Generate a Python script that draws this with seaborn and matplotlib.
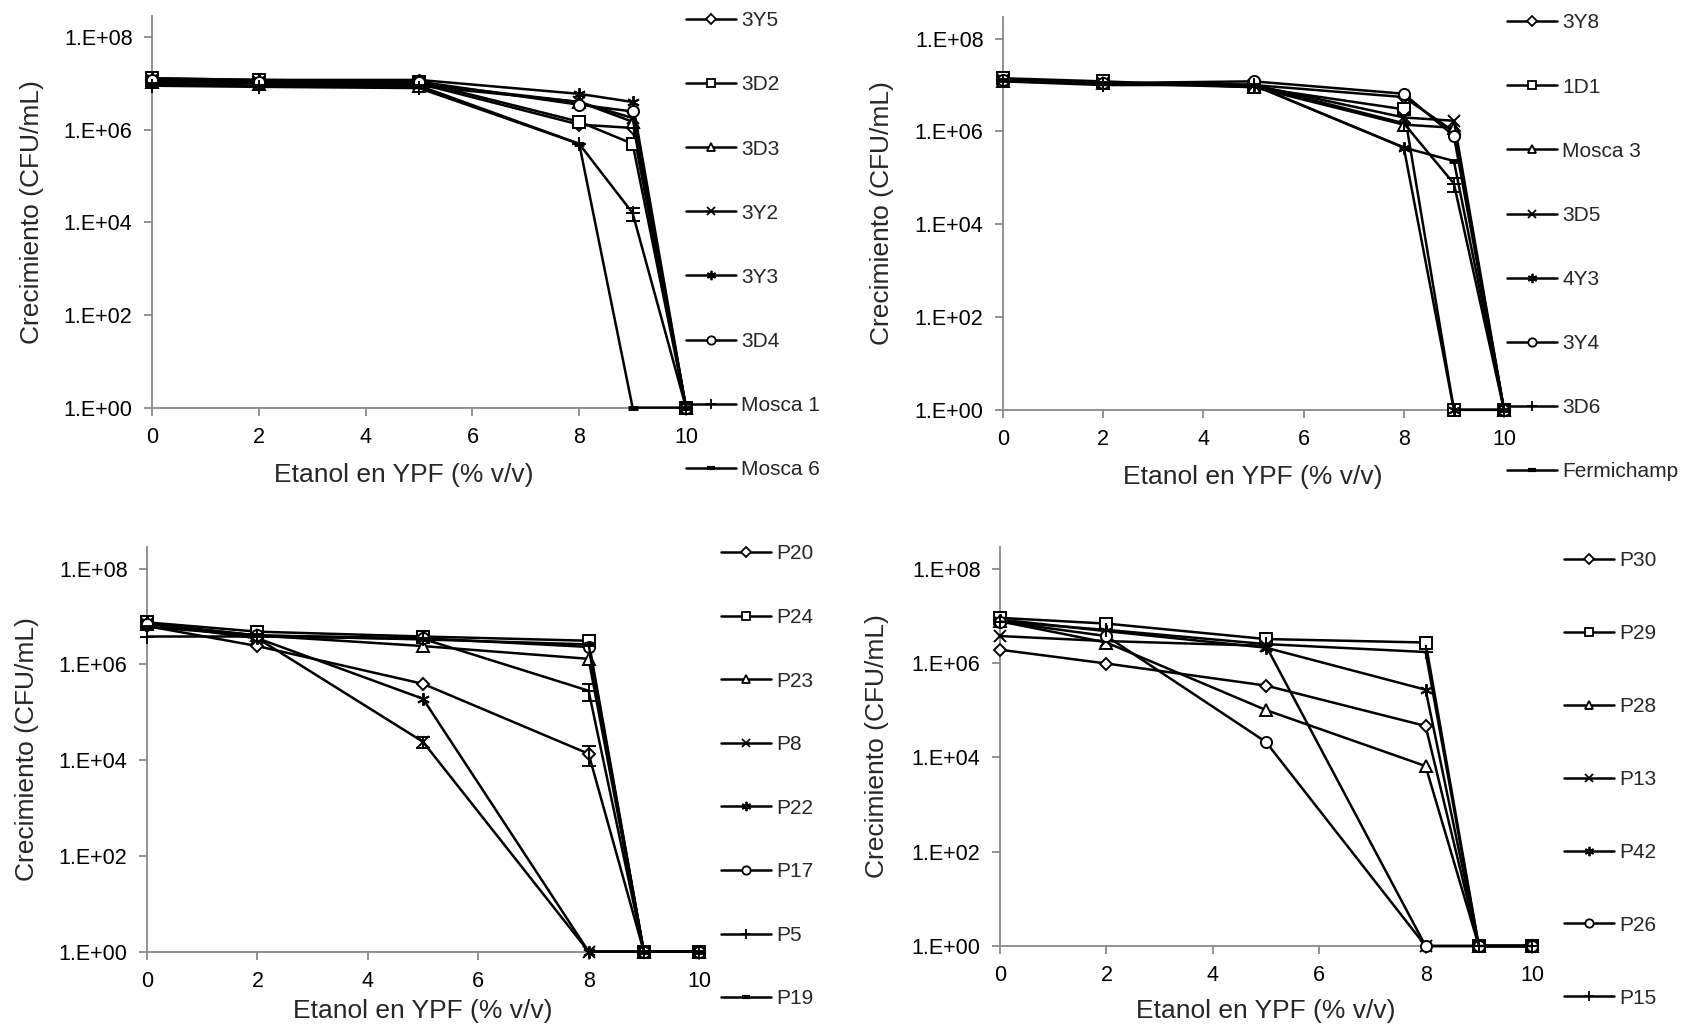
import numpy as np
import pandas as pd
import matplotlib
matplotlib.use("Agg")
import matplotlib.pyplot as plt
from matplotlib.lines import Line2D
from matplotlib.ticker import FixedLocator, FuncFormatter, NullLocator
import seaborn as sns

# ---------------- data ----------------
etanol = [0, 2, 5, 8, 9, 10]          # % v/v ; 0 CFU plotted as 1.E+00

cepas_a = ["3Y5", "3D2", "3D3", "3Y2", "3Y3", "3D4", "Mosca 1", "Mosca 6"]
ufc_a = [
    [1.2e7, 1.1e7, 1.0e7, 1.3e6, 1.1e6, 1],
    [1.3e7, 1.2e7, 1.1e7, 1.5e6, 5.0e5, 1],
    [1.1e7, 1.0e7, 9.0e6, 4.0e6, 1.5e6, 1],
    [1.2e7, 1.1e7, 1.0e7, 4.0e6, 1.8e6, 1],
    [1.3e7, 1.2e7, 1.2e7, 6.0e6, 4.0e6, 1],
    [1.2e7, 1.1e7, 1.1e7, 3.5e6, 2.5e6, 1],
    [9.0e6, 8.5e6, 8.0e6, 5.0e5, 1.6e4, 1],
    [1.0e7, 9.0e6, 9.0e6, 5.0e5, 1, 1],
]
err_a = [("Mosca 1", 9, 5e3)]

cepas_b = ["3Y8", "1D1", "Mosca 3", "3D5", "4Y3", "3Y4", "3D6", "Fermichamp"]
ufc_b = [
    [1.3e7, 1.1e7, 1.0e7, 5.5e6, 1.0e6, 1],
    [1.4e7, 1.2e7, 9.0e6, 3.0e6, 1, 1],
    [1.2e7, 1.1e7, 9.0e6, 1.4e6, 1.2e6, 1],
    [1.3e7, 1.1e7, 1.0e7, 2.0e6, 1.7e6, 1],
    [1.3e7, 1.1e7, 1.0e7, 4.5e5, 1, 1],
    [1.3e7, 1.1e7, 1.2e7, 6.5e6, 8.0e5, 1],
    [1.2e7, 1.0e7, 1.0e7, 1.5e6, 7.5e4, 1],
    [1.3e7, 1.1e7, 1.0e7, 4.5e5, 2.3e5, 1],
]
err_b = [("3D6", 9, 2.5e4)]

cepas_c = ["P20", "P24", "P23", "P8", "P22", "P17", "P5", "P19"]
ufc_c = [
    [6.3e6, 2.4e6, 3.9e5, 1.35e4, 1, 1],
    [7.5e6, 4.8e6, 3.8e6, 3.1e6, 1, 1],
    [7.0e6, 4.0e6, 2.4e6, 1.3e6, 1, 1],
    [7.0e6, 3.5e6, 2.4e4, 1, 1, 1],
    [7.5e6, 3.5e6, 1.9e5, 1, 1, 1],
    [7.0e6, 4.0e6, 3.5e6, 2.3e6, 1, 1],
    [3.8e6, 3.8e6, 3.4e6, 2.8e5, 1, 1],
    [6.0e6, 4.0e6, 3.3e6, 2.6e6, 1, 1],
]
err_c = [("P20", 8, 6e3), ("P8", 5, 6e3), ("P5", 8, 1.1e5)]

cepas_d = ["P30", "P29", "P28", "P13", "P42", "P26", "P15"]
ufc_d = [
    [1.9e6, 9.7e5, 3.3e5, 4.6e4, 1, 1],
    [9.0e6, 6.8e6, 3.2e6, 2.7e6, 1, 1],
    [7.6e6, 2.7e6, 1.0e5, 6.5e3, 1, 1],
    [3.7e6, 2.9e6, 2.3e6, 1, 1, 1],
    [8.3e6, 4.7e6, 2.1e6, 2.7e5, 1, 1],
    [7.5e6, 3.7e6, 2.1e4, 1, 1, 1],
    [7.5e6, 5.0e6, 2.5e6, 1.7e6, 1, 1],
]
err_d = []

y_ticks = [1e0, 1e2, 1e4, 1e6, 1e8]
x_ticks = [0, 2, 4, 6, 8, 10]
x_label = "Etanol en YPF (% v/v)"
y_label = "Crecimiento (CFU/mL)"

# ---------------- style ----------------
sns.set_theme(style="white")
plt.rcParams["font.family"] = ["Liberation Sans", "DejaVu Sans"]
GREY = "#888888"
STAR = (6, 2, 0)
marker_cycle = ["D", "s", "^", "x", STAR, "o", "+", "_"]
msize = {"D": 6.5, "s": 8, "^": 8, "x": 8, STAR: 9, "o": 8, "+": 10, "_": 7}

fig = plt.figure(figsize=(16.82, 10.31), dpi=100)
W, H = 1682.0, 1031.0


def add_ax(x0, x1, ytop, ybot):
    return fig.add_axes([x0 / W, 1 - ybot / H, (x1 - x0) / W, (ybot - ytop) / H])


def panel(ax, box, cepas, ufc, errs, xlab_pos, ylab_x, leg_x, leg_ytop, spacing):
    x0, x1, ytop, ybot = box
    df = pd.DataFrame({
        "Etanol": np.tile(etanol, len(cepas)),
        "UFC": np.ravel(ufc),
        "Cepa": np.repeat(cepas, len(etanol)),
    })
    mk = dict(zip(cepas, marker_cycle[:len(cepas)]))
    ax.set_yscale("log")
    for c in cepas:
        sub = df[df["Cepa"] == c]
        m = mk[c]
        sns.lineplot(data=sub, x="Etanol", y="UFC", ax=ax, color="black",
                     marker=m, markersize=msize[m], markerfacecolor="white",
                     markeredgecolor="black",
                     markeredgewidth=3.5 if m == "_" else 1.4,
                     lw=1.8, legend=False, errorbar=None, sort=False,
                     clip_on=False, zorder=3)
    for name, xv, e in errs:
        yv = ufc[cepas.index(name)][etanol.index(xv)]
        ax.errorbar([xv], [yv], yerr=[[e], [e]], fmt="none", ecolor="black",
                    elinewidth=1.4, capsize=5, capthick=1.4, zorder=4, clip_on=False)

    ax.set_xlim(0, 10)
    ax.set_ylim(1, 10 ** 8.46)
    ax.xaxis.set_major_locator(FixedLocator(x_ticks))
    ax.yaxis.set_major_locator(FixedLocator(y_ticks))
    ax.yaxis.set_minor_locator(NullLocator())
    ax.yaxis.set_major_formatter(
        FuncFormatter(lambda v, p: "1.E+%02d" % int(round(np.log10(v)))))
    ax.xaxis.set_major_formatter(FuncFormatter(lambda v, p: "%d" % v))
    for s in ["top", "right"]:
        ax.spines[s].set_visible(False)
    for s in ["left", "bottom"]:
        ax.spines[s].set_color(GREY)
        ax.spines[s].set_linewidth(1.3)
    ax.tick_params(axis="both", which="major", direction="out", length=6,
                   width=1.3, color=GREY, labelsize=15.5, labelcolor="black",
                   pad=8, left=True, bottom=True)
    ax.set_xlabel(x_label, fontsize=19)
    ax.set_ylabel(y_label, fontsize=19)
    lx, ly = xlab_pos
    ax.xaxis.set_label_coords((lx - x0) / (x1 - x0), (ybot - ly) / (ybot - ytop))
    ax.xaxis.label.set_verticalalignment("center")
    ax.yaxis.set_label_coords((ylab_x - x0) / (x1 - x0), 0.5)
    ax.yaxis.label.set_verticalalignment("center")
    ax.patch.set_alpha(0)

    handles = [Line2D([], [], color="black", lw=1.8, marker=mk[c],
                      markersize=msize[mk[c]] * 0.75, markerfacecolor="white",
                      markeredgecolor="black",
                      markeredgewidth=3.0 if mk[c] == "_" else 1.3)
               for c in cepas]
    fig.legend(handles, cepas, loc="upper left",
               bbox_to_anchor=(leg_x / W, 1 - leg_ytop / H),
               frameon=False, fontsize=15, handlelength=2.4,
               handletextpad=0.25, labelspacing=spacing,
               borderpad=0, borderaxespad=0)


box_a = (152, 686, 16, 407.6)
box_b = (1003, 1504, 17.3, 409.8)
box_c = (147, 699, 546.5, 951.5)
box_d = (1000, 1532, 546.8, 946)

ax_a = add_ax(*box_a)
ax_b = add_ax(*box_b)
ax_c = add_ax(*box_c)
ax_d = add_ax(*box_d)

panel(ax_a, box_a, cepas_a, ufc_a, err_a, (404, 475), 32, 686, 11.3, 2.165)
panel(ax_b, box_b, cepas_b, ufc_b, err_b, (1253, 477), 882, 1507, 13.5, 2.165)
panel(ax_c, box_c, cepas_c, ufc_c, err_c, (423, 1011), 27, 721, 544.4, 2.14)
panel(ax_d, box_d, cepas_d, ufc_d, err_d, (1266, 1011), 877, 1564, 551, 2.59)

fig.savefig("out.png", dpi=100)
